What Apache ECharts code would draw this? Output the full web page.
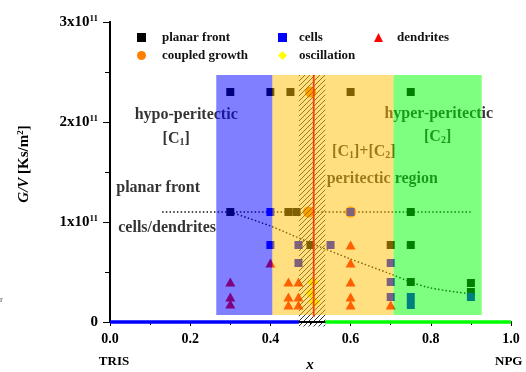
<!DOCTYPE html>
<html><head><meta charset="utf-8">
<script src="https://cdn.jsdelivr.net/npm/echarts@6/dist/echarts.min.js"></script>
<style>html,body{margin:0;padding:0;background:#fff}#c{width:526px;height:372px}</style>
</head><body><div id="c"></div>
<script>
// Growth morphologies in the TRIS-NPG system: composition x vs. G/V (in units of 1e11 K s/m^2)
const planarFront = [[0.30,2.30],[0.40,2.30],[0.45,2.30],[0.60,2.30],[0.75,2.30],
  [0.30,1.10],[0.445,1.10],[0.465,1.10],[0.75,1.10],
  [0.50,0.77],[0.70,0.77],[0.75,0.77],[0.75,0.40],[0.90,0.39],[0.90,0.30]];
const cells = [[0.40,1.10],[0.60,1.10],[0.40,0.77],[0.47,0.77],[0.55,0.77],
  [0.47,0.59],[0.70,0.59],[0.70,0.40],[0.70,0.25],[0.75,0.25],[0.75,0.17],[0.90,0.25]];
const dendrites = [[0.30,0.40],[0.30,0.25],[0.30,0.18],[0.40,0.59],
  [0.445,0.40],[0.47,0.40],[0.445,0.25],[0.47,0.25],[0.445,0.17],[0.47,0.17],
  [0.60,0.77],[0.60,0.59],[0.60,0.40],[0.60,0.25],[0.60,0.17],[0.70,0.17]];
const coupledGrowth = [[0.50,2.30],[0.495,1.10],[0.60,1.10]];
const oscillation = [[0.505,0.40],[0.50,0.29],[0.51,0.20]];

// transition lines
const planarLimit = [[0.13,1.10],[0.90,1.10]];
const cellDendriteLimit = [[0.30,1.10],[0.40,0.96],[0.50,0.79],[0.60,0.63],[0.70,0.48],[0.75,0.40],[0.80,0.34],[0.90,0.28]];

// composition ranges of the regimes
const regimeFrom = [0.265, 0.405, 0.707];
const regimeTo   = [0.405, 0.707, 0.927];
const regimeLow = 0.07, regimeHigh = 2.47;
const peritecticBand = [0.471, 0.537];
const peritecticX = 0.508;

const xTicks = [0, 0.2, 0.4, 0.6, 0.8, 1.0];
const yTicks = [0, 1, 2, 3];

const annotations = [
  [0.19, 2.07, 'hypo-peritectic'],
  [0.165, 1.83, '[C{s|1}]'],
  [0.12, 1.34, 'planar front'],
  [0.1425, 0.94, 'cells/dendrites'],
  [0.82, 2.08, 'hyper-peritectic'],
  [0.817, 1.85, '[C{s|2}]'],
  [0.633, 1.70, '[C{s|1}]+[C{s|2}]'],
  [0.679, 1.43, 'peritectic region']
];

const FONT = 'Liberation Serif';
const regimeColors = ['rgba(0,0,255,0.5)', 'rgba(255,192,0,0.5)', 'rgba(0,255,0,0.5)'];

// diagonal hatch tile
const tile = document.createElement('canvas');
tile.width = 5; tile.height = 5;
const g = tile.getContext('2d');
g.strokeStyle = 'rgba(0,0,0,0.8)'; g.lineWidth = 1;
g.beginPath();
g.moveTo(0,5); g.lineTo(5,0);
g.moveTo(-1,1); g.lineTo(1,-1);
g.moveTo(4,6); g.lineTo(6,4);
g.stroke();

function rectFrom(api, x0, x1, y0, y1) {
  const a = api.coord([x0, y1]);
  const b = api.coord([x1, y0]);
  return {x: a[0], y: a[1], width: b[0]-a[0], height: b[1]-a[1]};
}

const chart = echarts.init(document.getElementById('c'), null, {renderer: 'canvas'});

function legendItem(name, left, top, gap) {
  return {
    data: [name], left: left, top: top,
    orient: 'horizontal', padding: 0, itemWidth: 9, itemHeight: 9, selectedMode: false,
    textStyle: {fontFamily: FONT, fontWeight: 'bold', fontSize: 13, color: '#111', padding: [0, 0, 0, gap]}
  };
}

const option = {
  animation: false,
  backgroundColor: '#fff',
  grid: {left: 110, right: 15, top: 22, bottom: 50, outerBoundsMode: 'none', containLabel: false},
  legend: [
    legendItem('planar front', 137, 31, 11),
    legendItem('cells', 278, 31, 7),
    legendItem('dendrites', 374, 31, 9),
    legendItem('coupled growth', 137, 49, 11),
    legendItem('oscillation', 278, 49, 7)
  ],
  xAxis: [{
    type: 'value', min: xTicks[0], max: xTicks[xTicks.length-1], interval: 0.2,
    axisLine: {show: false},
    axisTick: {show: true, length: 4, lineStyle: {color: '#000', width: 1}},
    minorTick: {show: true, splitNumber: 2, length: 3, lineStyle: {color: '#000', width: 1}},
    splitLine: {show: false},
    axisLabel: {margin: 10, formatter: v => v.toFixed(1),
      fontFamily: FONT, fontWeight: 'bold', fontSize: 14, color: '#000'}
  }, {
    type: 'value', position: 'top', min: 0, max: 1,
    axisLine: {show: true, lineStyle: {color: '#000', width: 2}},
    axisTick: {show: false}, axisLabel: {show: false}, splitLine: {show: false}
  }],
  yAxis: [{
    type: 'value', min: yTicks[0], max: yTicks[yTicks.length-1], interval: 1,
    axisLine: {show: true, lineStyle: {color: '#000', width: 2}},
    axisTick: {show: true, length: 7, lineStyle: {color: '#000', width: 1}},
    minorTick: {show: true, splitNumber: 2, length: 5, lineStyle: {color: '#000', width: 1}},
    splitLine: {show: false},
    axisLabel: {
      margin: 12,
      formatter: v => v === 0 ? '{b|0}' : '{b|' + v + 'x10}{s|11}',
      rich: {
        b: {fontFamily: FONT, fontWeight: 'bold', fontSize: 15, color: '#000'},
        s: {fontFamily: FONT, fontWeight: 'bold', fontSize: 9, color: '#000', verticalAlign: 'top'}
      }
    }
  }, {
    type: 'value', position: 'right', min: 0, max: 3,
    axisLine: {show: true, lineStyle: {color: '#000', width: 2}},
    axisTick: {show: false}, axisLabel: {show: false}, splitLine: {show: false}
  }],
  graphic: [
    {type: 'text', x: 24, y: 164, rotation: Math.PI/2, z: 10,
      style: {text: '{i|G/V} [Ks/m{s|2}]', align: 'center', verticalAlign: 'middle',
        rich: {
          i: {fontFamily: FONT, fontWeight: 'bold', fontStyle: 'italic', fontSize: 15, fill: '#000'},
          s: {fontFamily: FONT, fontWeight: 'bold', fontSize: 9, fill: '#000', verticalAlign: 'top'}
        },
        font: 'bold 15px ' + FONT, fill: '#000'}},
    {type: 'text', x: 310, y: 365, z: 10,
      style: {text: 'x', align: 'center', verticalAlign: 'middle',
        font: 'italic bold 15px ' + FONT, fill: '#000'}},
    {type: 'text', x: 114, y: 362, z: 10,
      style: {text: 'TRIS', align: 'center', verticalAlign: 'middle',
        font: 'bold 13px ' + FONT, fill: '#000'}},
    {type: 'text', x: 495, y: 362, z: 10,
      style: {text: 'NPG', align: 'left', verticalAlign: 'middle',
        font: 'bold 13px ' + FONT, fill: '#000'}},
    {type: 'text', x: 0, y: 300, z: 10,
      style: {text: 'r', align: 'left', verticalAlign: 'middle',
        font: '9px ' + FONT, fill: '#555'}}
  ],
  series: [
    {
      name: 'planar limit', type: 'line', data: planarLimit, z: 2,
      symbol: 'none', lineStyle: {color: '#111', width: 1.5, type: [1.5, 2.2]}
    },
    {
      name: 'cell limit', type: 'line', data: cellDendriteLimit, smooth: 0.3, z: 2,
      symbol: 'none', lineStyle: {color: '#111', width: 1.5, type: [1.5, 2.2]}
    },
    {
      name: 'coupled growth', type: 'scatter', data: coupledGrowth, z: 2,
      symbol: 'circle', symbolSize: 11, itemStyle: {color: '#ff8000', opacity: 1}
    },
    {
      name: 'planar front', type: 'scatter', data: planarFront, z: 2,
      symbol: 'rect', symbolSize: 8, itemStyle: {color: '#000', opacity: 1}
    },
    {
      name: 'cells', type: 'scatter', data: cells, z: 2,
      symbol: 'rect', symbolSize: 8, itemStyle: {color: '#0000ff', opacity: 1}
    },
    {
      name: 'dendrites', type: 'scatter', data: dendrites, z: 2,
      symbol: 'triangle', symbolSize: [10, 9], itemStyle: {color: '#ff0000', opacity: 1}
    },
    {
      name: 'oscillation', type: 'scatter', data: oscillation, z: 2,
      symbol: 'diamond', symbolSize: 11, itemStyle: {color: '#ffff00', opacity: 1}
    },
    {
      name: 'labels', type: 'scatter', z: 2, silent: true,
      data: annotations.map(a => ({value: [a[0], a[1]], text: a[2]})),
      symbolSize: 0,
      label: {
        show: true, position: 'inside', formatter: p => p.data.text,
        fontFamily: FONT, fontWeight: 'bold', fontSize: 16, color: '#000',
        rich: {s: {fontFamily: FONT, fontWeight: 'bold', fontSize: 10, color: '#000', verticalAlign: 'bottom'}}
      }
    },
    {
      name: 'peritectic band', type: 'custom', z: 3, silent: true, clip: false,
      data: [[peritecticBand[0], peritecticBand[1], -0.045, regimeHigh]],
      renderItem: (params, api) => ({
        type: 'rect',
        shape: rectFrom(api, api.value(0), api.value(1), api.value(2), api.value(3)),
        style: {fill: {image: tile, repeat: 'repeat'}}
      })
    },
    {
      name: 'regimes', type: 'custom', z: 4, silent: true,
      data: regimeFrom.map((f, i) => [f, regimeTo[i], regimeLow, regimeHigh]),
      renderItem: (params, api) => ({
        type: 'rect',
        shape: rectFrom(api, api.value(0), api.value(1), api.value(2), api.value(3)),
        style: {fill: regimeColors[params.dataIndex]}
      })
    },
    {
      name: 'peritectic', type: 'line', z: 5, symbol: 'none',
      data: [[peritecticX, regimeHigh], [peritecticX, 0.05]],
      lineStyle: {color: '#ff3a10', width: 1.8}
    },
    {
      name: 'axis hypo', type: 'line', z: 5, symbol: 'none', clip: false,
      data: [[0, 0], [peritecticBand[0], 0]],
      lineStyle: {color: '#0000ff', width: 3.5}
    },
    {
      name: 'axis hyper', type: 'line', z: 5, symbol: 'none', clip: false,
      data: [[peritecticBand[1], 0], [1, 0]],
      lineStyle: {color: '#00ff00', width: 3.5}
    }
  ]
};
chart.setOption(option);
</script>
</body></html>
